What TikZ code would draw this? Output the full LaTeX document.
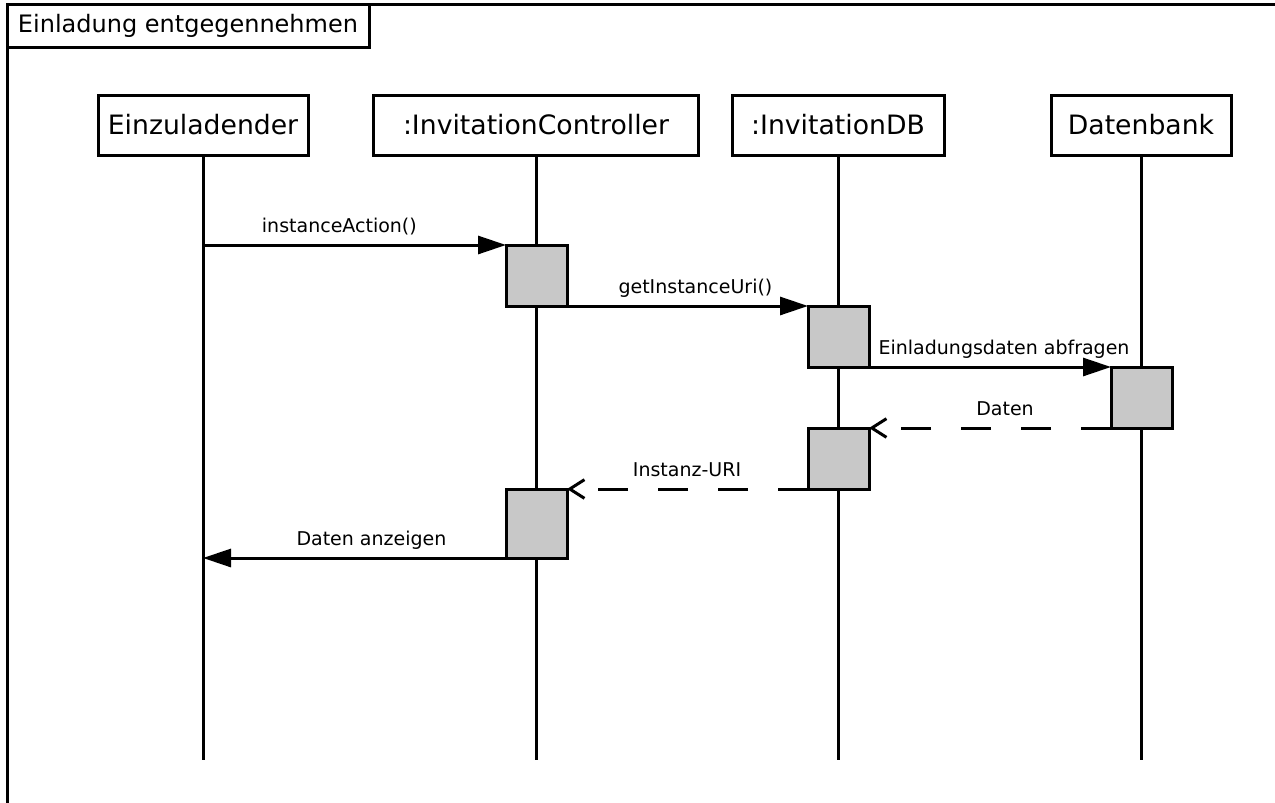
\documentclass[tikz,border=0pt]{standalone}
\usepackage{fontspec}
\setmainfont{DejaVu Sans}
\usetikzlibrary{arrows.meta}
\definecolor{actgray}{HTML}{C8C8C8}
\begin{document}
\begin{tikzpicture}[x=0.75pt,y=-0.75pt,line width=2.25pt,
  head/.style={draw,fill=white,minimum height=45pt,inner sep=0pt,outer sep=0pt,font=\fontsize{20}{24}\selectfont},
  act/.style={draw,fill=actgray,minimum width=45.75pt,minimum height=45.75pt,inner sep=0pt,outer sep=0pt,anchor=north},
  msg/.style={-{Triangle[length=21pt,width=13.5pt]}},
  ret/.style={dash pattern=on 22.5pt off 22.5pt,-{Straight Barb[length=11pt,width=14pt,line width=2.25pt]}},
  lbl/.style={font=\fontsize{14.25}{17}\selectfont,anchor=base,yshift=9.5pt,inner sep=0pt}]
\useasboundingbox (0,0) rectangle (1275,803);
% frame
\coordinate (fbl) at (7,810);
\coordinate (ftl) at (7,4);
\coordinate (ftr) at (1285,4);
\draw (fbl) -- (ftl) -- (ftr);
\node[draw,anchor=north west,minimum width=271.5pt,minimum height=32.25pt,inner sep=0pt,outer sep=0pt,
  font=\fontsize{18}{22}\selectfont] (title) at (ftl) {Einladung entgegennehmen};
% heads
\node[head,minimum width=157.5pt] (e) at (203,125) {Einzuladender};
\node[head,minimum width=243.75pt] (c) at (536,125) {:InvitationController};
\node[head,minimum width=159pt] (d) at (838,125) {:InvitationDB};
\node[head,minimum width=135pt] (b) at (1141,125) {Datenbank};
% lifeline ends
\coordinate (eEnd) at (203,760);
\coordinate (cEnd) at (536,760);
\coordinate (dEnd) at (838,760);
\coordinate (bEnd) at (1141,760);
\draw (e.south) -- (eEnd);
\draw (c.south) -- (cEnd);
\draw (d.south) -- (dEnd);
\draw (b.south) -- (bEnd);
% activations
\node[act] (a1) at (536.5,245) {};
\node[act] (a2) at (838.5,306) {};
\node[act] (a3) at (1141.5,367) {};
\node[act] (a4) at (838.5,428) {};
\node[act,minimum height=51.75pt] (a5) at (536.5,489) {};
% messages
\draw[msg] (e.south |- a1.north west) -- node[lbl,pos=.45]{instanceAction()} (a1.north west);
\draw[msg] (a1.south east) -- node[lbl,pos=.533]{getInstanceUri()} (a2.north west);
\draw[msg] (a2.south east) -- node[lbl,pos=.558]{Einladungsdaten abfragen} (a3.north west);
\draw[ret] (a3.south west) -- node[lbl,pos=.438]{Daten} (a4.north east);
\draw[ret] (a4.south west) -- node[lbl,pos=.502]{Instanz-URI} (a5.north east);
\draw[msg] (a5.south west) -- node[lbl,pos=.444]{Daten anzeigen} (e.south |- a5.south west);
\end{tikzpicture}
\end{document}
